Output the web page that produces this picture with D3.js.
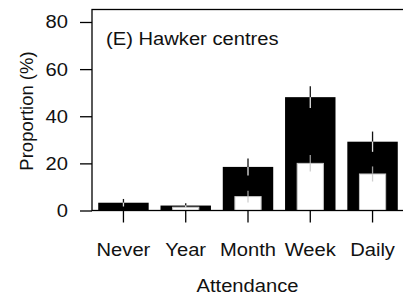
<!DOCTYPE html>
<meta charset="utf-8">
<style>
    html, body { margin: 0; padding: 0; background: #fff; }
    svg { display: block; font-family: "Liberation Sans", Arial, sans-serif; }
</style>
<div id="chart"></div>
<script src="https://d3js.org/d3.v7.min.js"></script>
<script>
    // values
    const categories = ["Never", "Year", "Month", "Week", "Daily"];
    const totalValues = [3.3, 2.1, 18.5, 48.1, 29.2];
    const totalErr = [1.6, 1.0, 3.6, 4.6, 4.3];
    const subValues = [0, 1.4, 5.9, 20.0, 15.5];
    const subErr = [0, 0, 2.5, 3.5, 3.2];
    const yTicks = [0, 20, 40, 60, 80];

    const width = 403, height = 296;
    const sx = 1.09; // picture is slightly stretched sideways
    const fs = 18.5;

    let svg = d3.select("#chart").append("svg")
        .attr("width", width)
        .attr("height", height);

    let x = d3.scaleBand()
        .domain(categories)
        .range([92, 404])
        .paddingInner(0.19)
        .paddingOuter(0.1);

    let y = d3.scaleLinear()
        .domain([0, 85.3])
        .range([210.5, 9.5]);

    let rows = categories.map((c, i) => ({
        cat: c, tot: totalValues[i], te: totalErr[i], sub: subValues[i], se: subErr[i]
    }));

    // black bars
    svg.append("g").selectAll("rect")
        .data(rows)
        .join("rect")
        .attr("x", d => x(d.cat))
        .attr("width", x.bandwidth())
        .attr("y", d => y(d.tot))
        .attr("height", d => y(0) - y(d.tot))
        .attr("fill", "#000");

    // error bars on black bars: dark above the top, pale inside
    let cx = d => x(d.cat) + x.bandwidth() / 2;
    let eb = svg.append("g").attr("stroke-width", 1.3);
    eb.selectAll(".up").data(rows).join("line")
        .attr("x1", cx).attr("x2", cx)
        .attr("y1", d => y(d.tot + d.te)).attr("y2", d => y(d.tot))
        .attr("stroke", "#111");
    eb.selectAll(".dn").data(rows).join("line")
        .attr("x1", cx).attr("x2", cx)
        .attr("y1", d => y(d.tot)).attr("y2", d => y(Math.max(0, d.tot - d.te)))
        .attr("stroke", "#e2e2e2");

    // white inner bars
    let iw = x.bandwidth() * 0.52;
    svg.append("g").selectAll("rect")
        .data(rows.filter(d => d.sub > 0))
        .join("rect")
        .attr("x", d => cx(d) - iw / 2)
        .attr("width", iw)
        .attr("y", d => y(d.sub))
        .attr("height", d => y(0) - y(d.sub))
        .attr("fill", "#fff")
        .attr("stroke", "#c4c4c4")
        .attr("stroke-width", 1);

    let wb = svg.append("g").attr("stroke-width", 1.3);
    let withErr = rows.filter(d => d.se > 0);
    wb.selectAll(".up").data(withErr).join("line")
        .attr("x1", cx).attr("x2", cx)
        .attr("y1", d => y(d.sub + d.se)).attr("y2", d => y(d.sub))
        .attr("stroke", "#9a9a9a");
    wb.selectAll(".dn").data(withErr).join("line")
        .attr("x1", cx).attr("x2", cx)
        .attr("y1", d => y(d.sub)).attr("y2", d => y(d.sub - d.se))
        .attr("stroke", "#cfcfcf");

    // box (right side runs off the picture)
    svg.append("rect")
        .attr("x", 92).attr("y", y.range()[1])
        .attr("width", 330).attr("height", y(0) - y.range()[1])
        .attr("fill", "none")
        .attr("stroke", "#000")
        .attr("stroke-width", 1.3);

    // y axis
    let yAxis = svg.append("g")
        .attr("transform", "translate(92,0)")
        .call(d3.axisLeft(y).tickValues(yTicks).tickSize(12).tickPadding(12));
    yAxis.select(".domain").remove();
    yAxis.selectAll(".tick line").attr("stroke", "#000").attr("stroke-width", 1.3);
    yAxis.selectAll(".tick text")
        .attr("font-size", fs)
        .attr("font-family", null)
        .attr("fill", "#111")
        .attr("x", -24 / sx)
        .attr("transform", `scale(${sx},1)`);

    // x axis
    let xAxis = svg.append("g")
        .attr("transform", `translate(0,${y(0)})`)
        .call(d3.axisBottom(x).tickSize(12));
    xAxis.select(".domain").remove();
    xAxis.selectAll(".tick line").attr("stroke", "#000").attr("stroke-width", 1.3);
    xAxis.selectAll(".tick text")
        .attr("font-size", fs)
        .attr("font-family", null)
        .attr("fill", "#111")
        .attr("y", 45.5)
        .attr("dy", 0)
        .attr("transform", `scale(${sx},1)`);
    xAxis.selectAll(".tick").attr("transform", d => `translate(${x(d) + x.bandwidth() / 2},0)`);

    // labels
    function label(txt, tx, ty, anchor) {
        svg.append("text")
            .attr("transform", `translate(${tx},${ty}) scale(${sx},1)`)
            .attr("text-anchor", anchor)
            .attr("font-size", fs)
            .attr("fill", "#111")
            .text(txt);
    }
    label("(E) Hawker centres", 106, 44.5, "start");
    label("Attendance", 247.5, 291.5, "middle");

    svg.append("text")
        .attr("transform", "translate(33,111) rotate(-90)")
        .attr("text-anchor", "middle")
        .attr("font-size", fs)
        .attr("fill", "#111")
        .text("Proportion (%)");
</script>
